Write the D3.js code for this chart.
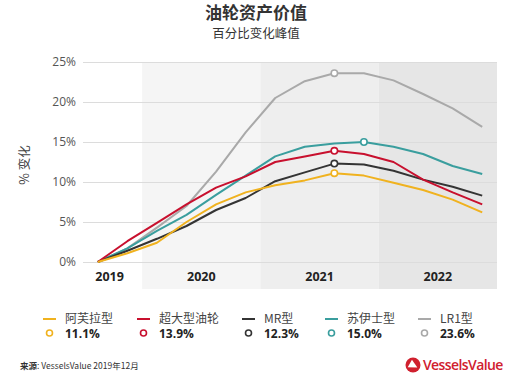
<!DOCTYPE html>
<html><head><meta charset="utf-8">
<script src="https://cdn.jsdelivr.net/npm/d3@7"></script>
<style>
body{margin:0;background:#fff;}
svg{display:block;font-family:"Noto Sans CJK SC","Open Sans",sans-serif;}
</style></head>
<body><svg id="c" width="511" height="378"></svg>
<script>
const years = ["2019","2020","2021","2022"];
const yearSpan = [[-0.5,1.5],[1.5,5.5],[5.5,9.5],[9.5,13.5]];
const yearFill = ["#ffffff","#f5f5f5","#eeeeee","#e6e6e6"];
const yTicks = [0,5,10,15,20,25];
const seriesNames = ["阿芙拉型","超大型油轮","MR型","苏伊士型","LR1型"];
const seriesColors = ["#f0b21f","#c8102e","#343434","#3a9e9e","#a9a9a9"];
const peakLabels = ["11.1%","13.9%","12.3%","15.0%","23.6%"];
const peakIndex = [8,8,8,9,8];
const aframax = [0,1.1,2.4,5.0,7.2,8.7,9.6,10.2,11.1,10.8,9.9,9.0,7.8,6.2];
const vlcc    = [0,2.6,4.9,7.2,9.3,10.7,12.5,13.2,13.9,13.5,12.5,10.3,8.7,7.2];
const mr      = [0,1.4,2.9,4.5,6.5,8.0,10.1,11.2,12.3,12.2,11.4,10.3,9.4,8.3];
const suezmax = [0,1.7,3.9,5.9,8.4,10.8,13.2,14.4,14.8,15.0,14.4,13.5,12.0,11.0];
const lr1     = [0,1.7,4.3,7.0,11.3,16.2,20.5,22.6,23.6,23.6,22.7,21.0,19.2,16.9];
const seriesValues = [aframax,vlcc,mr,suezmax,lr1];

const svg = d3.select("#c");
const x = d3.scaleLinear().domain([-0.5,13.5]).range([83,497]);
const y = d3.scaleLinear().domain([0,25]).range([262,62]);

// title
svg.append("text").attr("x",256).attr("y",19).attr("text-anchor","middle")
  .attr("font-size",17).attr("font-weight",700).attr("fill","#333").text("油轮资产价值");
svg.append("text").attr("x",256).attr("y",38).attr("text-anchor","middle")
  .attr("font-size",12.5).attr("fill","#333").text("百分比变化峰值");

// bands
years.forEach((yr,i)=>{
  svg.append("rect").attr("x",x(yearSpan[i][0])).attr("y",y(25))
    .attr("width",x(yearSpan[i][1])-x(yearSpan[i][0])).attr("height",289-y(25))
    .attr("fill",yearFill[i]);
  svg.append("text").attr("x",x((yearSpan[i][0]+yearSpan[i][1])/2)+(i===0?-3:0)).attr("y",281)
    .attr("text-anchor","middle").attr("font-family","'Open Sans',sans-serif")
    .attr("font-weight",700).attr("font-size",12.5).attr("fill","#222").text(yr);
});

// grid + y axis
const yAxis = d3.axisLeft(y).tickValues(yTicks).tickFormat(d=>d+"%").tickSize(-(497-83)).tickPadding(7);
const ga = svg.append("g").attr("transform","translate(83,0)").call(yAxis);
ga.select(".domain").remove();
ga.selectAll(".tick line").attr("stroke","#dcdcdc").attr("stroke-width",1);
ga.selectAll(".tick text").attr("font-family","'Open Sans',sans-serif").attr("font-size",12).attr("fill","#555");

svg.append("text").attr("transform","translate(29,165) rotate(-90)").attr("text-anchor","middle")
  .attr("font-size",12.5).attr("fill","#444").text("% 变化");

// lines
const line = d3.line().x((d,i)=>x(i)).y(d=>y(d));
const order = [4,3,2,1,0];
order.forEach(k=>{
  svg.append("path").datum(seriesValues[k]).attr("d",line).attr("fill","none")
    .attr("stroke",seriesColors[k]).attr("stroke-width",2).attr("stroke-linejoin","round");
});
order.forEach(k=>{
  const i = peakIndex[k];
  svg.append("circle").attr("cx",x(i)).attr("cy",y(seriesValues[k][i])).attr("r",3.2)
    .attr("fill","#fff").attr("stroke",seriesColors[k]).attr("stroke-width",1.6);
});

// legend
const legX = [43,137,242,325,418];
seriesNames.forEach((n,k)=>{
  const lx = legX[k];
  svg.append("line").attr("x1",lx).attr("x2",lx+13).attr("y1",319).attr("y2",319)
    .attr("stroke",seriesColors[k]).attr("stroke-width",2);
  svg.append("text").attr("x",lx+22).attr("y",322.5).attr("font-size",12).attr("fill","#444").text(n);
  svg.append("circle").attr("cx",lx+6.5).attr("cy",333).attr("r",3).attr("fill","#fff")
    .attr("stroke",seriesColors[k]).attr("stroke-width",1.6);
  svg.append("text").attr("x",lx+22).attr("y",338).attr("font-family","'Open Sans',sans-serif")
    .attr("font-weight",700).attr("font-size",12).attr("fill","#222").text(peakLabels[k]);
});

// source
const src = svg.append("text").attr("x",20).attr("y",369).attr("font-size",8.5).attr("fill","#333");
src.append("tspan").attr("font-weight",700).text("来源");
src.append("tspan").text(": VesselsValue 2019年12月");

// logo
svg.append("circle").attr("cx",413).attr("cy",365).attr("r",7.5).attr("fill","#d0202e");
svg.append("path").attr("d","M409.5,361 L418,365 L409.5,369.5 Z").attr("fill","#fff").attr("transform","rotate(30,413,365)");
svg.append("text").attr("x",423).attr("y",370).attr("font-family","'Open Sans',sans-serif")
  .attr("font-size",14).attr("font-weight",600).attr("letter-spacing",-0.6).attr("fill","#d0202e").text("VesselsValue");
</script></body></html>
